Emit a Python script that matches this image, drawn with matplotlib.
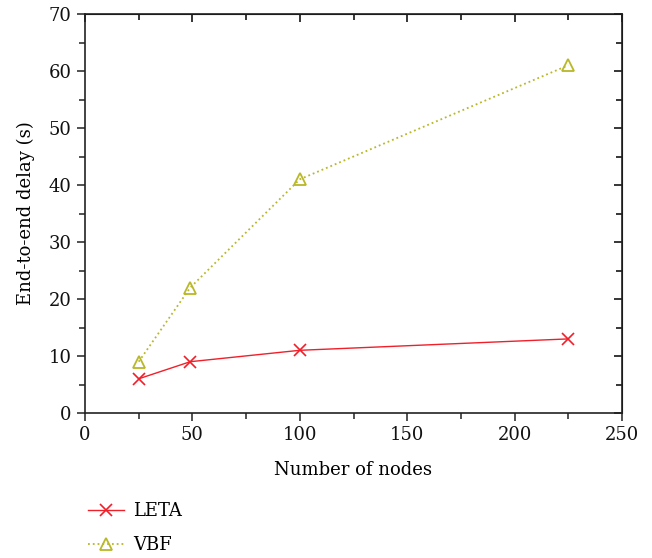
import numpy as np
import matplotlib
matplotlib.use("Agg")
from matplotlib import pyplot as plt
from matplotlib.ticker import MultipleLocator

########## data ##########
nodes = [25, 49, 100, 225]
leta_delay = [6, 9, 11, 13]
vbf_delay = [9, 22, 41, 61]

plt.rcParams['font.family'] = ['DejaVu Serif']
plt.rcParams['font.size'] = 13

fig = plt.figure(figsize=(6.52, 5.58), dpi=100)
ax = fig.add_axes([85/652, 1-413/558, (622-85)/652, (413-14)/558])

ax.plot(nodes, leta_delay, '-', color='#f0202a', lw=1.0, marker='x', ms=8,
        mew=1.2, label='LETA')
ax.plot(nodes, vbf_delay, ':', color='#b8b828', lw=1.3, marker='^', ms=8,
        mfc='none', mew=1.3, label='VBF')

ax.set_xlim(0, 250)
ax.set_ylim(0, 70)
ax.xaxis.set_major_locator(MultipleLocator(50))
ax.xaxis.set_minor_locator(MultipleLocator(25))
ax.yaxis.set_major_locator(MultipleLocator(10))
ax.yaxis.set_minor_locator(MultipleLocator(5))

for s in ax.spines.values():
    s.set_linewidth(1.2)
    s.set_color('#222222')

# outer ticks on bottom/left, inner mirrored ticks on top/right
ax.tick_params(which='both', direction='out', colors='#222222', width=1.1,
               labelsize=13, labelcolor='#111111')
ax.tick_params(which='major', length=6)
ax.tick_params(which='minor', length=4)
sx = ax.secondary_xaxis('top')
sx.xaxis.set_major_locator(MultipleLocator(50))
sx.xaxis.set_minor_locator(MultipleLocator(25))
sx.tick_params(which='both', direction='in', labeltop=False, width=1.1)
sx.tick_params(which='major', length=6)
sx.tick_params(which='minor', length=4)
sy = ax.secondary_yaxis('right')
sy.yaxis.set_major_locator(MultipleLocator(10))
sy.yaxis.set_minor_locator(MultipleLocator(5))
sy.tick_params(which='both', direction='in', labelright=False, width=1.1)
sy.tick_params(which='major', length=6)
sy.tick_params(which='minor', length=4)

ax.set_xlabel('Number of nodes', labelpad=12)
ax.set_ylabel('End-to-end delay (s)', labelpad=10)

h, l = ax.get_legend_handles_labels()
fig.legend(h, l, loc='upper left', bbox_to_anchor=(72/652, 1-486/558),
           frameon=False, handlelength=2.0, handletextpad=0.5,
           labelspacing=0.9, fontsize=13)

fig.savefig('out.png', dpi=100)
